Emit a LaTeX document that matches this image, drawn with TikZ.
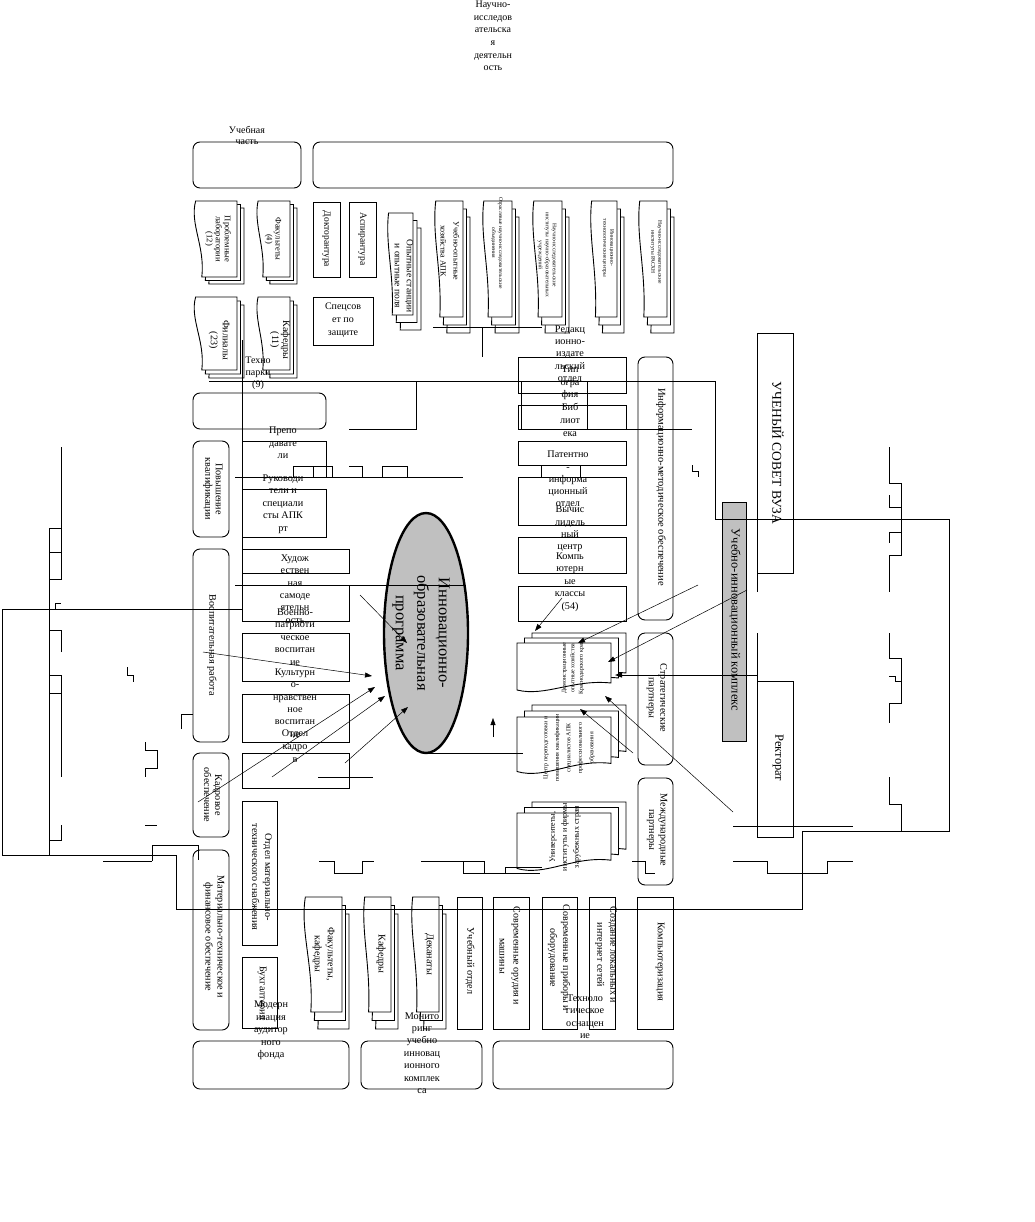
\documentclass[tikz,border=0pt]{standalone}
\usepackage{fontspec}
\setmainfont{Liberation Serif}
\usetikzlibrary{arrows.meta,shapes.geometric,fit}
\definecolor{gbox}{RGB}{192,192,192}
\tikzset{
  ln/.style={line width=0.9pt},
  dl/.style={line width=0.9pt, fill=white},
  bx/.style={draw, line width=0.9pt, fill=white, inner sep=0pt},
  bxn/.style={draw, line width=0.9pt, inner sep=0pt},
  rbx/.style={bx, rounded corners=7pt},
  tx/.style={font=\fontsize{10.2}{12.4}\selectfont, align=center, inner sep=0pt},
  vt/.style={tx, rotate=-90},
  vs/.style={tx, rotate=-90, font=\fontsize{8.5}{9}\selectfont},
  vtiny/.style={tx, rotate=-90, font=\fontsize{5.5}{7}\selectfont},
  arr/.style={line width=0.5pt, -{Triangle[length=7pt,width=5pt]}},
}
\newcommand{\BX}[6]{\node[#6, fit={(#2,#3) (#4,#5)}] (#1) {};}
\newcommand{\sdocV}[4]{%
 \pgfmathsetmacro{\mdL}{#1}\pgfmathsetmacro{\mdT}{#2}%
 \pgfmathsetmacro{\mdR}{#3}\pgfmathsetmacro{\mdB}{#4}%
 \pgfmathsetmacro{\mdK}{0.2*(\mdR-\mdL)}\pgfmathsetmacro{\mdHt}{\mdB-\mdT}%
 \filldraw[dl] ({\mdL+0.3*\mdK},\mdT) -- (\mdR,\mdT) -- (\mdR,\mdB) -- ({\mdL+\mdK},\mdB) .. controls ({\mdL+1.4*\mdK},{\mdT+0.6*\mdHt}) and ({\mdL-0.4*\mdK},{\mdT+0.3*\mdHt}) .. ({\mdL+0.3*\mdK},\mdT) -- cycle;}
\newcommand{\sdocH}[4]{%
 \pgfmathsetmacro{\mdL}{#1}\pgfmathsetmacro{\mdT}{#2}%
 \pgfmathsetmacro{\mdR}{#3}\pgfmathsetmacro{\mdB}{#4}%
 \pgfmathsetmacro{\mdK}{0.2*(\mdB-\mdT)}\pgfmathsetmacro{\mdW}{\mdR-\mdL}%
 \filldraw[dl] (\mdL,\mdT) -- (\mdR,\mdT) -- (\mdR,{\mdB-\mdK}) .. controls ({\mdL+0.6*\mdW},{\mdB-1.4*\mdK}) and ({\mdL+0.3*\mdW},{\mdB+0.4*\mdK}) .. (\mdL,{\mdB-0.3*\mdK}) -- cycle;}
\newcommand{\mdocV}[6]{\sdocV{(#1)+2*(#5)}{(#2)+2*(#6)}{(#3)+2*(#5)}{(#4)+2*(#6)}\sdocV{(#1)+(#5)}{(#2)+(#6)}{(#3)+(#5)}{(#4)+(#6)}\sdocV{#1}{#2}{#3}{#4}}
\newcommand{\mdocH}[6]{\sdocH{(#1)+2*(#5)}{(#2)+2*(#6)}{(#3)+2*(#5)}{(#4)+2*(#6)}\sdocH{(#1)+(#5)}{(#2)+(#6)}{(#3)+(#5)}{(#4)+(#6)}\sdocH{#1}{#2}{#3}{#4}}
\begin{document}
\begin{tikzpicture}[x=1pt,y=-1pt]
\fill[white] (0,0) rectangle (1034,1222);
\useasboundingbox (0,0) rectangle (1034,1222);

% ---------- top ----------
\BX{uchpart}{193}{142}{301}{188}{rbx}
\BX{nauch}{313}{142}{673}{188}{rbx}
\node[tx, font=\fontsize{10}{12.6}\selectfont] (tnauch) at (493,36) {Научно-\\исследов\\ательска\\я\\деятельн\\ость};
\node[tx, font=\fontsize{10}{11}\selectfont] (tuch) at (247,135) {Учебная\\часть};

% ---------- top row ----------
\mdocV{193}{201}{237}{277}{3.5}{3.5}
\mdocV{256}{201}{290}{277}{3.5}{3.5}
\BX{dokt}{313}{202}{340}{277}{bx}
\BX{asp}{349}{202}{376}{277}{bx}
\mdocV{387}{213}{413}{315}{4}{7.5}
\mdocV{434}{201}{463}{317}{3.5}{8}
\mdocV{482}{201}{512}{317}{3.5}{8}
\mdocV{532}{201}{562}{317}{3.5}{8}
\mdocV{590}{201}{617}{317}{3.5}{8}
\mdocV{638}{201}{667}{317}{3.5}{8}
\node[vs] (tprob) at (218,239) {Проблемные\\лаборатории\\(12)};
\node[vs] (tfak) at (273,239) {Факультеты\\(4)};
\node[vt, font=\fontsize{9.5}{12}\selectfont] (tdokt) at (326.5,239) {Докторантура};
\node[vt, font=\fontsize{9.5}{12}\selectfont] (tasp) at (362.5,239) {Аспирантура};
\node[vt, font=\fontsize{9.5}{12}\selectfont] (topyt) at (404,276) {Опытные станции\\и опытные поля};
\node[vt, font=\fontsize{8}{13}\selectfont] (tuoh) at (450,251) {Учебно-опытные\\хозяйства АПК};
\node[vtiny] (totr) at (497,243) {Отраслевые научно-исследовательские\\объединения};
\node[vtiny] (tnii1) at (547,255) {Научно-исследовательские\\институты научно-образовательных\\учреждений};
\node[vtiny] (tinnc) at (608,248) {Инновационно-\\технологические центры};
\node[vtiny] (tnii2) at (656,252) {Научно-исследовательские\\институты РАСХН};

% ---------- row 2 ----------
\mdocV{193}{297}{237}{370}{3.5}{4}
\mdocV{256}{297}{290}{370}{3.5}{4}
\BX{spec}{313}{297}{373}{345}{bx}
\node[vt, font=\fontsize{10}{12}\selectfont] (tfil) at (219,340) {Филиалы\\(23)};
\node[vt, font=\fontsize{10}{11}\selectfont] (tkaf) at (280,340) {Кафедры\\(11)};
\node[tx, font=\fontsize{10}{13}\selectfont] (tspec) at (343,320) {Спецсов\\ет по\\защите};
\node[tx, font=\fontsize{10}{12}\selectfont] (ttech) at (258,373) {Техно\\парки\\(9)};

% ---------- left column ----------
\BX{empty1}{193}{393}{326}{429}{rbx}
\BX{prep}{242}{441}{326}{477}{bxn}
\BX{ruk}{242}{489}{326}{537}{bx}
\BX{pov}{193}{441}{229}{537}{rbx}
\BX{vosp}{193}{549}{229}{742}{rbx}
\BX{hud1}{242}{549}{349}{573}{bx}
\BX{hud2}{242}{585}{349}{621}{bx}
\BX{voen}{242}{633}{349}{681}{bx}
\BX{kult}{242}{694}{349}{742}{bx}
\BX{kadr}{242}{753}{349}{788}{bx}
\BX{kadob}{193}{753}{229}{837}{rbx}
\BX{mto}{193}{850}{229}{1030}{rbx}
\BX{omts}{242}{801}{277}{945}{bx}
\BX{buh}{242}{957}{277}{1028}{bx}
\node[vt, font=\fontsize{10.2}{10.5}\selectfont] (tpov) at (213,489) {Повышение\\квалификации};
\node[vt] (tvosp) at (212,645) {Воспитательная работа};
\node[vt, font=\fontsize{10.2}{11}\selectfont] (tkadob) at (213,795) {Кадровое\\обеспечение};
\node[vt, font=\fontsize{10.2}{12}\selectfont] (tmto) at (214,937) {Материально-техническое и\\финансовое обеспечение};
\node[vt, font=\fontsize{10.2}{13}\selectfont] (tomts) at (262,877) {Отдел материально-\\технического снабжения};
\node[vt] (tbuh) at (262,993) {Бухгалтерия};
\node[tx] (tprep) at (283,443) {Препо\\давате\\ли};
\node[tx] (truk) at (283,504) {Руководи\\тели и\\специали\\сты АПК\\рт};
\node[tx] (thud) at (295,589) {Худож\\ествен\\ная\\самоде\\ятельн\\ость};
\node[tx] (tvoen) at (295,637) {Военно-\\патриоти\\ческое\\воспитан\\ие};
\node[tx] (tkult) at (295,703) {Культурн\\о-\\нравствен\\ное\\воспитан\\ие};
\node[tx, font=\fontsize{10.2}{12.8}\selectfont] (tkadr) at (295,746) {Отдел\\кадро\\в};

% ---------- bottom row ----------
\mdocV{303}{897}{342}{1012}{3.5}{8.5}
\mdocV{363}{897}{391}{1012}{3.5}{8.5}
\mdocV{411}{897}{439}{1012}{3.5}{8.5}
\BX{uo}{457}{897}{482}{1029}{bx}
\BX{sov1}{493}{897}{529}{1029}{bx}
\BX{sov2}{542}{897}{577}{1029}{bx}
\BX{sozd}{589}{897}{615}{1029}{bx}
\BX{kompz}{637}{897}{673}{1029}{bx}
\BX{b1}{193}{1041}{349}{1089}{rbx}
\BX{b2}{361}{1041}{482}{1089}{rbx}
\BX{b3}{493}{1041}{673}{1089}{rbx}
\node[vt, font=\fontsize{10}{13}\selectfont] (tfk) at (323.5,954) {Факультеты,\\кафедры};
\node[vt] (tkaf2) at (381,954) {Кафедры};
\node[vt] (tdek) at (429,954) {Деканаты};
\node[vt] (tuo) at (470,961) {Учебный отдел};
\node[vt, font=\fontsize{10}{14}\selectfont] (tsov1) at (510,956) {Современные орудия и\\машины};
\node[vt, font=\fontsize{10}{13}\selectfont] (tsov2) at (559,958) {Современные приборы и\\оборудование};
\node[vt, font=\fontsize{10}{13}\selectfont] (tsozd) at (606,955) {Создание локальных и\\интернет сетей};
\node[vt] (tkompz) at (660,962) {Компьютеризация};
\node[tx] (tmod) at (271,1030.5) {Модерн\\изация\\аудитор\\ного\\фонда};
\node[tx] (tmon) at (422,1053) {Монито\\ринг\\учебно\\инновац\\ионного\\комплек\\са};
\node[tx] (ttehn) at (585,1016.5) {Техноло\\гическое\\оснащен\\ие};

% ---------- right-middle column ----------
\BX{red}{518}{357}{626}{393}{bx}
\BX{tip}{521}{381}{587}{429}{bxn}
\BX{bib}{518}{405}{626}{429}{bxn}
\BX{pat1}{518}{441}{626}{465}{bx}
\BX{pat2}{541}{465}{580}{477}{bx}
\BX{pat3}{518}{477}{626}{525}{bx}
\BX{vych}{518}{537}{626}{573}{bx}
\BX{kompk}{518}{586}{626}{621}{bx}
\node[tx] (tred) at (570,354.5) {Редакц\\ионно-\\издате\\льский\\отдел};
\node[tx] (ttip) at (570,383) {Тип\\огра\\фия};
\node[tx, font=\fontsize{10.2}{13}\selectfont] (tbib) at (570,420) {Биб\\лиот\\ека};
\node[tx, font=\fontsize{10.2}{12.3}\selectfont] (tpat) at (568,480) {Патентно\\-\\информа\\ционный\\отдел};
\node[tx] (tvych) at (570,529) {Вычис\\лидель\\ный\\центр};
\node[tx] (tkompk) at (570,582) {Компь\\ютерн\\ые\\классы\\(54)};

\mdocH{517}{643}{611}{693}{7.5}{-5}
\mdocH{517}{717}{611}{775}{7.5}{-6}
\mdocH{517}{813}{611}{872}{7.5}{-5.5}
\node[tx, rotate=90, font=\fontsize{6}{8.5}\selectfont] (tdem) at (573,668) {Демонстрационные\\опытные хозяйства\\Краснодарского края};
\node[tx, rotate=90, font=\fontsize{6}{11.5}\selectfont] (tcentr) at (569,748) {Центр переподготовки и\\повышения квалификации\\специалистов АПК\\профессионального\\образования};
\node[tx, rotate=90, font=\fontsize{8}{12}\selectfont] (tuniv) at (565,837) {Университеты,\\институты и фирмы\\зарубежных стран};

% ---------- right column ----------
\BX{info}{638}{357}{673}{620}{rbx}
\BX{strat}{638}{633}{673}{765}{rbx}
\BX{mezh}{638}{778}{673}{885}{rbx}
\BX{uik}{722}{502}{746}{741}{bx, fill=gbox}
\BX{sovet}{757}{333}{793}{573}{bx}
\BX{rekt}{757}{681}{793}{837}{bx}
\node[vt, font=\fontsize{10.5}{12}\selectfont] (tinfo) at (661,487) {Информационно-методическое обеспечение};
\node[vt, font=\fontsize{10.2}{11.5}\selectfont] (tstrat) at (657,698) {Стратегические\\партнеры};
\node[vt, font=\fontsize{10.2}{11.5}\selectfont] (tmezh) at (657,830) {Международные\\партнеры};
\node[vt, font=\fontsize{12.5}{14}\selectfont] (tuik) at (735,620) {Учебно-инновационный комплекс};
\node[vt, font=\fontsize{13.5}{15}\selectfont] (tsovet) at (778,453) {УЧЕНЫЙ СОВЕТ ВУЗА};
\node[vt, font=\fontsize{12.5}{14}\selectfont] (trekt) at (778,758) {Ректорат};

% ---------- ellipse ----------
\node[draw, ellipse, line width=2.4pt, fill=gbox, minimum width=84pt, minimum height=240pt, inner sep=0pt] (prog) at (426,633) {};
\node[tx, rotate=-90, font=\fontsize{16.5}{21.5}\selectfont] (tprog) at (421,633) {Инновационно-\\образовательная\\программа};

% ---------- lines ----------
\draw[ln] (433,327) -- (542,327) (482,327) -- (482,357);
\draw[ln] (209,381) -- (715,381) -- (715,519) -- (949,519) -- (949,831) -- (802,831) -- (802,909) -- (176,909) -- (176,855) -- (2,855) -- (2,609) -- (242,609);
\draw[ln] (152,845) -- (152,861) (103,861) -- (152,861) (152,845) -- (198,845) -- (198,860);
\draw[ln] (61,447) -- (61,579) -- (49,579) -- (49,528) -- (61,528) (49,552) -- (61,552);
\draw[ln] (49,579) -- (49,855);
\draw[ln] (55,609) -- (55,603) -- (61,603);
\draw[ln] (61,652) -- (61,630) -- (49,630);
\draw[ln] (49,675) -- (61,675) -- (61,777) (49,693) -- (61,693);
\draw[ln] (61,825) -- (61,840) -- (49,840);
\draw[ln] (127,667) -- (127,675) -- (133,675) -- (133,682);
\draw[ln] (181,729) -- (181,714) -- (193,714);
\draw[ln] (145,742) -- (145,750) -- (157,750) -- (157,768) -- (145,768) -- (145,777);
\draw[ln] (145,825) -- (157,825);
\draw[ln] (235,585) -- (465,585);
\draw[ln] (235,477) -- (463,477);
\draw[ln] (293,477) -- (293,466) -- (332,466) -- (332,477) (313,466) -- (313,477);
\draw[ln] (349,466) -- (362,466) -- (362,477);
\draw[ln] (382,477) -- (382,466) -- (407,466) -- (407,477);
\draw[ln] (349,429) -- (416,429) -- (416,381);
\draw[ln] (518,429) -- (692,429);
\draw[ln] (692,465) -- (692,471) -- (698,471) -- (698,477);
\draw[ln] (242,340) -- (242,621);
\draw[ln] (427,753) -- (523,753);
\draw[ln] (318,777) -- (373,777);
\draw[ln] (757,573) -- (757,592) (757,633) -- (757,681);
\draw[ln] (733,826) -- (853,826);
\draw[ln] (733,861) -- (767,861) -- (767,873) -- (827,873) -- (827,861) -- (853,861);
\draw[ln] (889,447) -- (889,483) -- (901,483) -- (901,555) -- (889,555) -- (889,592) (889,495) -- (889,507) -- (901,507) (889,532) -- (901,532) (889,532) -- (889,543);
\draw[ln] (889,633) -- (889,658) -- (901,658) -- (901,703) -- (889,703) -- (889,723) (889,676) -- (895,676) -- (895,681) -- (901,681);
\draw[ln] (889,777) -- (889,804) -- (901,804) -- (901,831);
\draw[ln] (319,861) -- (334,861) -- (334,873) -- (362,873) -- (362,861) -- (374,861);
\draw[ln] (421,861) -- (484,861) -- (484,873) (463,861) -- (463,873) -- (540,873);
\draw[ln] (505,873) -- (505,867) -- (542,867);
\draw[ln] (632,861) -- (645,861) -- (645,873) -- (655,873);

% ---------- arrows ----------
\draw[arr] (493,737) -- (493,718);
\draw[arr] (203,652) -- (372,676);
\draw[arr] (198,802) -- (375,687);
\draw[arr] (272,777) -- (385,696);
\draw[arr] (345,763) -- (408,707);
\draw[arr] (360,595) -- (407,643);
\draw[arr] (562,598) -- (535,631);
\draw[arr] (698,585) -- (578,643);
\draw[arr] (747,590) -- (608,662);
\draw[arr, line width=0.9pt] (757,675) -- (615,675);
\draw[arr] (733,812) -- (605,696);
\draw[arr] (633,753) -- (580,709);
\end{tikzpicture}
\end{document}
